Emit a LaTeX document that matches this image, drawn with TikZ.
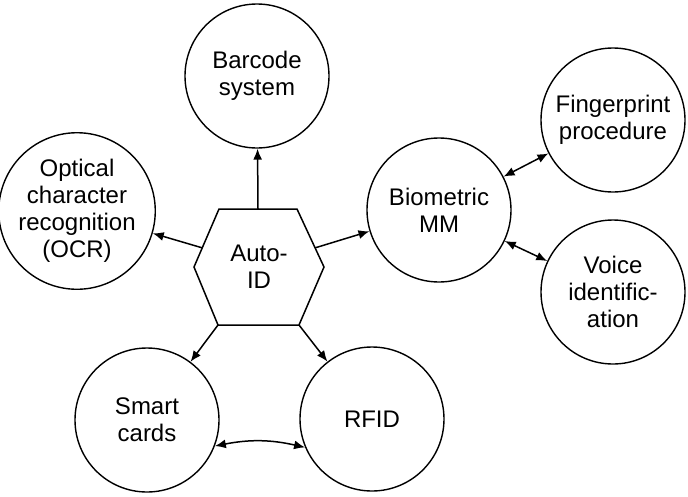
\documentclass[tikz,border=0pt]{standalone}
\usepackage{fontspec}
\setmainfont{Liberation Sans}
\usetikzlibrary{arrows.meta,calc}
\tikzset{
  bubble/.style={circle,draw=black,line width=1.4pt,minimum size=144pt,inner sep=0pt,align=center,
    font=\fontsize{24}{27}\selectfont},
  label/.style={align=center,font=\fontsize{24}{27}\selectfont,inner sep=0pt},
  conn/.style={line width=1.5pt,-{Latex[length=11pt,width=9pt]}},
  bconn/.style={line width=1.5pt,{Latex[length=11pt,width=9pt]}-{Latex[length=11pt,width=9pt]}},
}
\begin{document}
\begin{tikzpicture}[x=1pt,y=-1pt]
\useasboundingbox (0,0) rectangle (688,496);
% circles
\node[bubble] (barcode) at (257,76) {Barcode\\system};
\node[bubble,minimum size=142pt] (ocr) at (77,211) {Optical\\character\\recognition\\(OCR)};
\node[bubble] (bio) at (439,210) {Biometric\\MM};
\node[bubble] (finger) at (613,120) {Fingerprint\\procedure};
\node[bubble] (voice) at (613,292) {Voice\\identific-\\ation};
\node[bubble] (smart) at (147,420) {Smart\\cards};
\node[bubble] (rfid) at (372,419) {RFID};
% hexagon
\coordinate (hTL) at (219,209);
\coordinate (hTR) at (297,209);
\coordinate (hR) at (324,267);
\coordinate (hBR) at (299,325);
\coordinate (hBL) at (218,325);
\coordinate (hL) at (194,267);
\draw[line width=1.5pt,line join=miter] (hTL) -- (hTR) -- (hR) -- (hBR) -- (hBL) -- (hL) -- cycle;
\node[label] (auto) at (259,267) {Auto-\\ID};
\coordinate (hT) at ($(hTL)!0.5!(hTR)$);
\coordinate (hOL) at ($(hTL)!0.67!(hL)$);
\coordinate (hOR) at ($(hTR)!0.67!(hR)$);
% connectors
\draw[conn] (hT) -- (barcode);
\draw[conn] (hOL) -- (ocr);
\draw[conn] (hOR) -- (bio);
\draw[conn] (hBL) -- (smart);
\draw[conn] (hBR) -- (rfid);
\draw[bconn] (bio) -- (finger);
\draw[bconn] (bio) -- (voice);
\draw[bconn] (smart.-21) to[bend left=12] (rfid.-157);
\end{tikzpicture}
\end{document}
